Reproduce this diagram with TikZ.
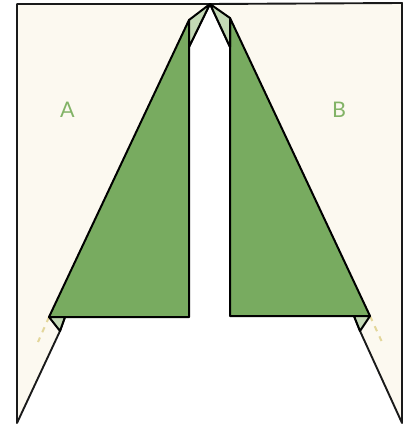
\documentclass[tikz,border=0pt]{standalone}
\usepackage{fontspec}
\setmainfont{Lato}
\definecolor{cream}{HTML}{FCF9F0}
\definecolor{leaf}{HTML}{78AB60}
\definecolor{pale}{HTML}{C3D9B5}
\definecolor{crease}{HTML}{E3D69A}
\definecolor{labelgreen}{HTML}{82B366}
\definecolor{ink}{HTML}{1A1A1A}
\tikzset{
  sheet/.style={fill=cream,draw=ink,line width=1.9pt,line join=round},
  flap/.style={fill=leaf,draw=black,line width=2pt,line join=round},
  fold/.style={fill=pale,draw=black,line width=2pt,line join=round},
  creaseline/.style={draw=crease,line width=2pt,dash pattern=on 5.5pt off 5.7pt},
  letter/.style={text=labelgreen,font=\fontsize{21.5pt}{21.5pt}\selectfont,inner sep=0pt}
}
\begin{document}
\begin{tikzpicture}[x=1pt,y=-1pt]
\useasboundingbox (0,0) rectangle (413,425);
\coordinate (apex) at (210,4);
% left panel
\filldraw[sheet] (apex) -- (17,4) -- (17,423) -- (60,331) -- (65,317) -- (189,317) -- (189,47) -- cycle;
% right panel
\filldraw[sheet] (apex) -- (402,3) -- (402,423) -- (360,331) -- (354,316) -- (230,316) -- (230,47) -- cycle;
% creases, starting under the flap corners
\coordinate (c1) at (38,342);
\coordinate (c2) at (381.5,341);
\coordinate (s1) at (49,317);
\coordinate (s2) at (370,316);
\draw[creaseline] (s1) -- (c1);
\draw[creaseline] (s2) -- (c2);
% green flaps
\filldraw[flap] (49,317) -- (189,20) -- (189,317) -- cycle;
\filldraw[flap] (370,316) -- (230,18) -- (230,316) -- cycle;
% light folds
\filldraw[fold] (apex) -- (189,20) -- (189,47) -- cycle;
\filldraw[fold] (apex) -- (230,18) -- (230,47) -- cycle;
\filldraw[fold] (49,317) -- (65,317) -- (60,331) -- cycle;
\filldraw[fold] (370,316) -- (354,316) -- (360,331) -- cycle;
\node[letter] (A) at (67.5,109.5) {A};
\node[letter] (B) at (339,110) {B};
\end{tikzpicture}
\end{document}
